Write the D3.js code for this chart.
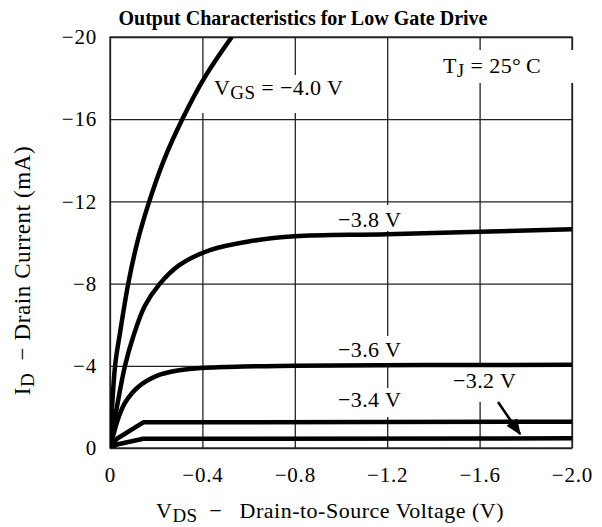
<!DOCTYPE html>
<html>
<head>
<meta charset="utf-8">
<script src="https://cdn.jsdelivr.net/npm/d3@7"></script>
<style>
  body { margin: 0; background: #fff; }
  text { font-family: "Liberation Serif", "DejaVu Serif", serif; fill: #000; }
</style>
</head>
<body>
<div id="chart"></div>
<script>
// data
var xTicks = [0, -0.4, -0.8, -1.2, -1.6, -2.0];
var yTicks = [0, -4, -8, -12, -16, -20];

var vds40 = [0, -0.022, -0.043, -0.079, -0.118, -0.17, -0.233, -0.313, -0.408, -0.527];
var id40  = [0, -4, -5.58, -8, -10, -12, -14, -16, -18, -20];

var vds38 = [0, -0.03, -0.065, -0.1, -0.15, -0.216, -0.3, -0.433, -0.6, -0.8, -1.2, -2.0];
var id38  = [0, -2.0, -4.0, -5.4, -6.9, -8.0, -8.9, -9.63, -10.05, -10.3, -10.4, -10.64];

var vds36 = [0, -0.017, -0.036, -0.065, -0.123, -0.2, -0.3, -0.45, -0.8, -2.0];
var id36  = [0, -0.73, -1.45, -2.2, -2.98, -3.5, -3.78, -3.92, -4.0, -4.05];

var vds34 = [0, -0.03, -0.144, -2.0];
var id34  = [0, -0.45, -1.25, -1.28];

var vds32 = [0, -0.03, -0.144, -2.0];
var id32  = [0, -0.17, -0.45, -0.47];

var margin = {top: 37, right: 30, bottom: 79, left: 110},
    width = 602 - margin.left - margin.right,
    height = 527 - margin.top - margin.bottom;

var svg = d3.select("#chart").append("svg")
    .attr("width", 602)
    .attr("height", 527);

var g = svg.append("g")
    .attr("transform", "translate(" + margin.left + "," + margin.top + ")");

var x = d3.scaleLinear().domain([0, -2.0]).range([0, width]);
var y = d3.scaleLinear().domain([0, -20]).range([height, 0]);

var fmtX = function (d) { return d === 0 ? "0" : d3.format(".1f")(d); };

// grid via axes
var xAxis = g.append("g")
    .attr("transform", "translate(0," + height + ")")
    .call(d3.axisBottom(x).tickValues(xTicks).tickFormat(fmtX)
        .tickSizeInner(-height).tickSizeOuter(0).tickPadding(19));
xAxis.select(".domain").remove();
xAxis.selectAll("line").attr("stroke", "#222").attr("stroke-width", 1.3);
xAxis.selectAll("text").attr("font-size", 21).attr("fill", "#000")
    .attr("letter-spacing", 0.8)
    .attr("font-family", "Liberation Serif");

var yAxis = g.append("g")
    .call(d3.axisLeft(y).tickValues(yTicks).tickFormat(d3.format("d"))
        .tickSizeInner(-width).tickSizeOuter(0).tickPadding(13));
yAxis.select(".domain").remove();
yAxis.selectAll("line").attr("stroke", "#222").attr("stroke-width", 1.3);
yAxis.selectAll("text").attr("font-size", 21).attr("fill", "#000")
    .attr("letter-spacing", 0.8)
    .attr("font-family", "Liberation Serif");

g.append("rect")
    .attr("width", width)
    .attr("height", height)
    .attr("fill", "none")
    .attr("stroke", "#222")
    .attr("stroke-width", 1.3);

// label boxes knock out the grid behind them
function labelBg(x0, y0, w, h) {
    g.append("rect")
        .attr("x", x0).attr("y", y0)
        .attr("width", w).attr("height", h)
        .attr("fill", "#fff");
}
labelBg(x(-0.4) - 1, 46, 150, 30);
labelBg(x(-0.8) - 2, 38, 4, 38);
labelBg(x(-1.6) - 2, 13, 110, 33);
labelBg(x(-1.2) - 2, 168, 4, 26);
labelBg(x(-1.2) - 2, 299, 4, 28);
labelBg(x(-1.2) - 2, 351, 4, 29);
labelBg(x(-1.6) - 2, 328, 4, 37);

// curves
g.append("clipPath").attr("id", "clip")
    .append("rect").attr("width", width).attr("height", height);

var line = d3.line()
    .x(function (d) { return x(d[0]); })
    .y(function (d) { return y(d[1]); });

var curves = [
    {v: vds40, i: id40, c: d3.curveCatmullRom.alpha(0.5)},
    {v: vds38, i: id38, c: d3.curveCatmullRom.alpha(0.5)},
    {v: vds36, i: id36, c: d3.curveCatmullRom.alpha(0.5)},
    {v: vds34, i: id34, c: d3.curveLinear},
    {v: vds32, i: id32, c: d3.curveLinear}
];

g.append("g").attr("clip-path", "url(#clip)")
    .selectAll("path")
    .data(curves)
    .enter()
    .append("path")
    .attr("d", function (d) {
        return line.curve(d.c)(d3.zip(d.v, d.i));
    })
    .attr("fill", "none")
    .attr("stroke", "#000")
    .attr("stroke-width", 4.5)
    .attr("stroke-linejoin", "round");

// curve labels
function addLabel(px, py, main, sub, rest) {
    var t = svg.append("text")
        .attr("x", px).attr("y", py)
        .attr("font-size", 22)
        .attr("letter-spacing", 0.4);
    t.append("tspan").text(main);
    if (sub) {
        t.append("tspan").attr("dy", 4).attr("font-size", 19).text(sub);
        t.append("tspan").attr("dy", -4).text(rest);
    }
    return t;
}
addLabel(214, 95, "V", "GS", " = \u22124.0 V");
addLabel(443, 73, "T", "J", " = 25\u00b0\u2009C");
addLabel(338, 227, "\u22123.8 V");
addLabel(338, 357, "\u22123.6 V");
addLabel(338, 407, "\u22123.4 V");
addLabel(453, 388, "\u22123.2 V");

// arrow for -3.2 V
svg.append("defs").append("marker")
    .attr("id", "arrow")
    .attr("viewBox", "0 0 10 10")
    .attr("refX", 9).attr("refY", 5)
    .attr("markerWidth", 6.5).attr("markerHeight", 6.5)
    .attr("orient", "auto")
    .append("path").attr("d", "M0,1 L10,5 L0,9 Z").attr("fill", "#000");

svg.append("line")
    .attr("x1", 498).attr("y1", 402)
    .attr("x2", 520).attr("y2", 434)
    .attr("stroke", "#000")
    .attr("stroke-width", 2.5)
    .attr("marker-end", "url(#arrow)");

// title and axis titles
svg.append("text")
    .attr("x", 303).attr("y", 25)
    .attr("text-anchor", "middle")
    .attr("font-size", 20)
    .attr("font-weight", "bold")
    .text("Output Characteristics for Low Gate Drive");

var xt = svg.append("text")
    .attr("x", 330).attr("y", 518)
    .attr("text-anchor", "middle")
    .attr("font-size", 22)
    .attr("letter-spacing", 0.5);
xt.append("tspan").text("V");
xt.append("tspan").attr("dy", 4).attr("font-size", 19).text("DS");
xt.append("tspan").attr("dy", -4).text("\u2002\u2212\u2002 Drain-to-Source Voltage (V)");

var yt = svg.append("text")
    .attr("transform", "translate(30," + (margin.top + height / 2 + 28) + ") rotate(-90)")
    .attr("text-anchor", "middle")
    .attr("font-size", 23)
    .attr("letter-spacing", 0.6);
yt.append("tspan").text("I");
yt.append("tspan").attr("dy", 4).attr("font-size", 19).text("D");
yt.append("tspan").attr("dy", -4).text("\u2002\u2212 Drain Current (mA)");
</script>
</body>
</html>
